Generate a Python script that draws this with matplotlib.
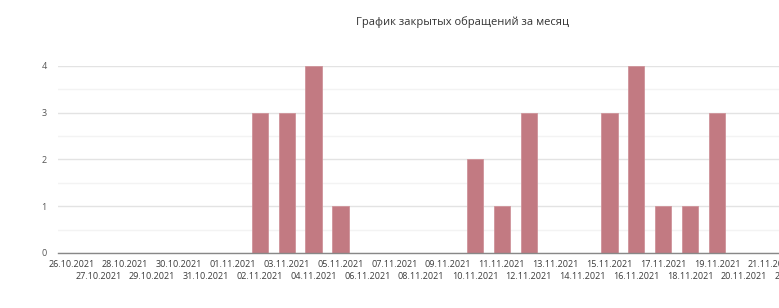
import matplotlib
matplotlib.use('Agg')
import matplotlib.pyplot as plt
from matplotlib.ticker import MultipleLocator

# data
dates = ['26.10.2021', '27.10.2021', '28.10.2021', '29.10.2021', '30.10.2021',
         '31.10.2021', '01.11.2021', '02.11.2021', '03.11.2021', '04.11.2021',
         '05.11.2021', '06.11.2021', '07.11.2021', '08.11.2021', '09.11.2021',
         '10.11.2021', '11.11.2021', '12.11.2021', '13.11.2021', '14.11.2021',
         '15.11.2021', '16.11.2021', '17.11.2021', '18.11.2021', '19.11.2021',
         '20.11.2021', '21.11.2021', '22.11.2021']
closed = [0, 0, 0, 0, 0, 0, 0, 3, 3, 4, 1, 0, 0, 0, 0,
          2, 1, 3, 0, 0, 3, 4, 1, 1, 3, 0, 0, 0]
title = 'График закрытых обращений за месяц'

plt.rcParams['font.family'] = ['Open Sans', 'DejaVu Sans']

W, H = 779, 308
fig = plt.figure(figsize=(W / 100, H / 100), dpi=100)
# axes run past the right edge of the figure, like the cropped original
px_per_cat = 26.9
left = 58
width = px_per_cat * len(dates)
bottom = H - 253
height = 253 - 65.7
ax = fig.add_axes([left / W, bottom / H, width / W, height / H])

x = list(range(len(dates)))
ax.bar(x, closed, width=0.6, color='#c27a82', edgecolor='#cf939a',
       linewidth=0.6, zorder=3)

ax.set_xlim(-0.5, len(dates) - 0.5)
ax.set_ylim(0, 4)
ax.yaxis.set_major_locator(MultipleLocator(1))
ax.yaxis.set_minor_locator(MultipleLocator(0.5))
ax.grid(axis='y', which='major', color='#e3e3e3', linewidth=1.0, zorder=0)
ax.grid(axis='y', which='minor', color='#f3f3f3', linewidth=1.0, zorder=0)
ax.set_axisbelow(True)

ax.set_xticks(x)
ax.set_xticklabels(dates, fontsize=6.5, color='#3a3a3a')
ax.tick_params(axis='x', length=0, pad=5)
# staggered labels: odd dates go on a second row
for i, tick in enumerate(ax.xaxis.get_major_ticks()):
    if i % 2 == 1:
        tick.set_pad(13.5)
ax.tick_params(axis='y', which='both', length=0, pad=8, labelsize=6.5,
               labelcolor='#555555')

for s in ['top', 'right', 'left']:
    ax.spines[s].set_visible(False)
ax.spines['bottom'].set_color('#888888')
ax.spines['bottom'].set_linewidth(1.0)
ax.spines['bottom'].set_zorder(4)

fig.text(463 / W, 1 - 22 / H, title, ha='center', va='center',
         fontsize=8, color='#333333')

fig.savefig('out.png', dpi=100)
